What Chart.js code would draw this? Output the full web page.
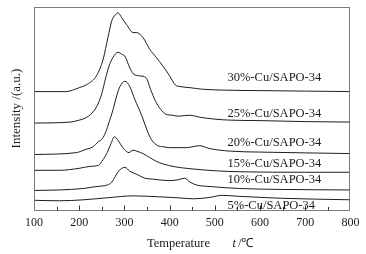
<!DOCTYPE html>
<html>
<head>
<meta charset="utf-8">
<script src="https://cdn.jsdelivr.net/npm/chart.js@4"></script>
<style>
  html, body { margin: 0; padding: 0; background: #fff; }
  #wrap { width: 366px; height: 254px; }
</style>
</head>
<body>
<div id="wrap"><canvas id="tprChart"></canvas></div>
<script>
// Series names (Cu loading)
const seriesNames = ['30%-Cu/SAPO-34', '25%-Cu/SAPO-34', '20%-Cu/SAPO-34',
                     '15%-Cu/SAPO-34', '10%-Cu/SAPO-34', '5%-Cu/SAPO-34'];

// Temperatures (°C) and intensities (a.u., stacked offsets included)
const t30 = [100, 170, 200, 220, 238, 253, 264, 272, 280, 286, 294, 305, 319, 327, 341, 356, 370, 385, 400, 412, 425, 445, 470, 520, 600, 700, 800];
const i30 = [122, 122, 126, 130, 138, 155, 178, 194, 200, 202, 197, 190, 182, 182, 177, 165, 157, 148, 138, 129, 127, 126, 124.5, 123.5, 123, 122.5, 122];

const t25 = [100, 180, 200, 213, 228, 240, 250, 258, 266, 275, 286, 294, 301, 312, 320, 334, 348, 358, 368, 380, 392, 405, 420, 444, 466, 500, 533, 600, 700, 800];
const i25 = [90, 91, 93, 95, 100, 108, 120, 135, 148, 157, 162, 160, 158, 146, 140, 138, 136, 124, 113, 104, 99, 98, 97, 98, 96, 94, 93, 92.5, 91.5, 91];

const t20 = [100, 194, 213, 231, 242, 249, 257, 264, 275, 283, 290, 301, 312, 323, 338, 349, 360, 374, 385, 400, 437, 466, 489, 533, 600, 700, 800];
const i20 = [58, 60, 63, 66, 71, 73, 79, 88, 104, 118, 127, 132.5, 127, 114, 98, 84, 73, 67, 66, 65, 65, 67, 64, 61.5, 60.5, 59.7, 59];

const t15 = [100, 157, 200, 224, 242, 253, 262, 270, 278, 285, 292, 300, 310, 319, 330, 341, 356, 371, 400, 452, 555, 700, 800];
const i15 = [42, 42, 44, 46, 47, 53, 60, 69, 76, 73, 68, 63, 60, 62.5, 61, 59, 55, 51, 46.7, 43.3, 40.5, 40, 40];

const t10 = [100, 157, 209, 231, 250, 262, 272, 280, 287, 294, 301, 312, 327, 345, 363, 400, 420, 433, 445, 460, 489, 555, 650, 800];
const i10 = [21.5, 22, 23.5, 25, 26, 27, 30, 36, 41, 44, 45, 41, 38, 34, 33, 31.5, 32.5, 34, 30, 27, 25.5, 23.5, 22.5, 22];

const t5 = [100, 157, 210, 268, 319, 378, 420, 452, 490, 515, 555, 650, 800];
const i5 = [11.5, 11, 12, 14.3, 16, 15, 14, 13, 14.5, 16.5, 15.5, 13.5, 12];

const temps = [t30, t25, t20, t15, t10, t5];
const intens = [i30, i25, i20, i15, i10, i5];

// x-axis tick labels (major every 100, minor marks every 50)
const xMin = 100, xMax = 800, xStep = 50;

const SERIF = "'Liberation Serif', 'Times New Roman', serif";

// Frame, inward ticks, curve labels and axis titles
const tprDecor = {
    id: 'tprDecor',
    afterDraw(chart) {
        const {ctx, chartArea: a, scales: {x, y}} = chart;
        ctx.save();

        // box frame
        ctx.strokeStyle = '#7d7d7d';
        ctx.lineWidth = 1;
        const L = Math.floor(a.left) + 0.5, R = Math.floor(a.right) - 0.5;
        const T = Math.floor(a.top) + 0.5, B = Math.floor(a.bottom) - 0.5;
        ctx.strokeRect(L, T, R - L, B - T);

        // ticks pointing into the plot
        ctx.strokeStyle = '#333';
        x.ticks.forEach(t => {
            if (t.value <= xMin || t.value >= xMax) return;
            const px = Math.round(x.getPixelForValue(t.value)) + 0.5;
            const len = t.value % 100 === 0 ? 5 : 3.5;
            ctx.beginPath();
            ctx.moveTo(px, B);
            ctx.lineTo(px, B - len);
            ctx.stroke();
        });

        // curve labels
        const labelLevels = [136, 100, 70, 49, 32.5, 6];
        ctx.fillStyle = '#1a1a1a';
        ctx.font = '12.5px ' + SERIF;
        ctx.textAlign = 'left';
        ctx.textBaseline = 'middle';
        seriesNames.forEach((name, i) => {
            ctx.fillText(name, x.getPixelForValue(528), y.getPixelForValue(labelLevels[i]));
        });

        // y title
        ctx.save();
        ctx.translate(16.5, 108.5);
        ctx.rotate(-Math.PI / 2);
        ctx.textAlign = 'center';
        ctx.font = '13px ' + SERIF;
        ctx.fillText('Intensity /(a.u.)', 0, 0);
        ctx.restore();

        // x title
        ctx.font = '12.5px ' + SERIF;
        ctx.fillText('Temperature', 147, 244);
        ctx.font = 'italic 12.5px ' + SERIF;
        ctx.fillText('t', 232.5, 244);
        ctx.font = '12.5px ' + SERIF;
        ctx.fillText('/\u2103', 238, 244);

        ctx.restore();
    }
};

const tprConfig = {
    type: 'line',
    data: {
        datasets: seriesNames.map((name, i) => ({
            label: name,
            data: temps[i].map((t, k) => ({x: t, y: intens[i][k]})),
            borderColor: '#1e1e1e',
            borderWidth: 1,
            pointRadius: 0,
            fill: false,
            cubicInterpolationMode: 'monotone'
        }))
    },
    options: {
        responsive: true,
        maintainAspectRatio: false,
        animation: false,
        layout: {
            padding: {left: 34, right: 15.5, top: 7.5, bottom: 20}
        },
        plugins: {
            legend: {display: false},
            tooltip: {enabled: false}
        },
        scales: {
            x: {
                type: 'linear',
                min: xMin,
                max: xMax,
                grid: {display: false, drawTicks: false},
                border: {display: false},
                ticks: {
                    stepSize: xStep,
                    autoSkip: false,
                    maxRotation: 0,
                    padding: 4,
                    color: '#1a1a1a',
                    font: {family: SERIF, size: 12},
                    callback: v => (v % 100 === 0 ? v : '')
                }
            },
            y: {
                display: false,
                min: 0,
                max: 207.5
            }
        }
    },
    plugins: [tprDecor]
};

const tprChart = new Chart(document.getElementById('tprChart'), tprConfig);
</script>
</body>
</html>
